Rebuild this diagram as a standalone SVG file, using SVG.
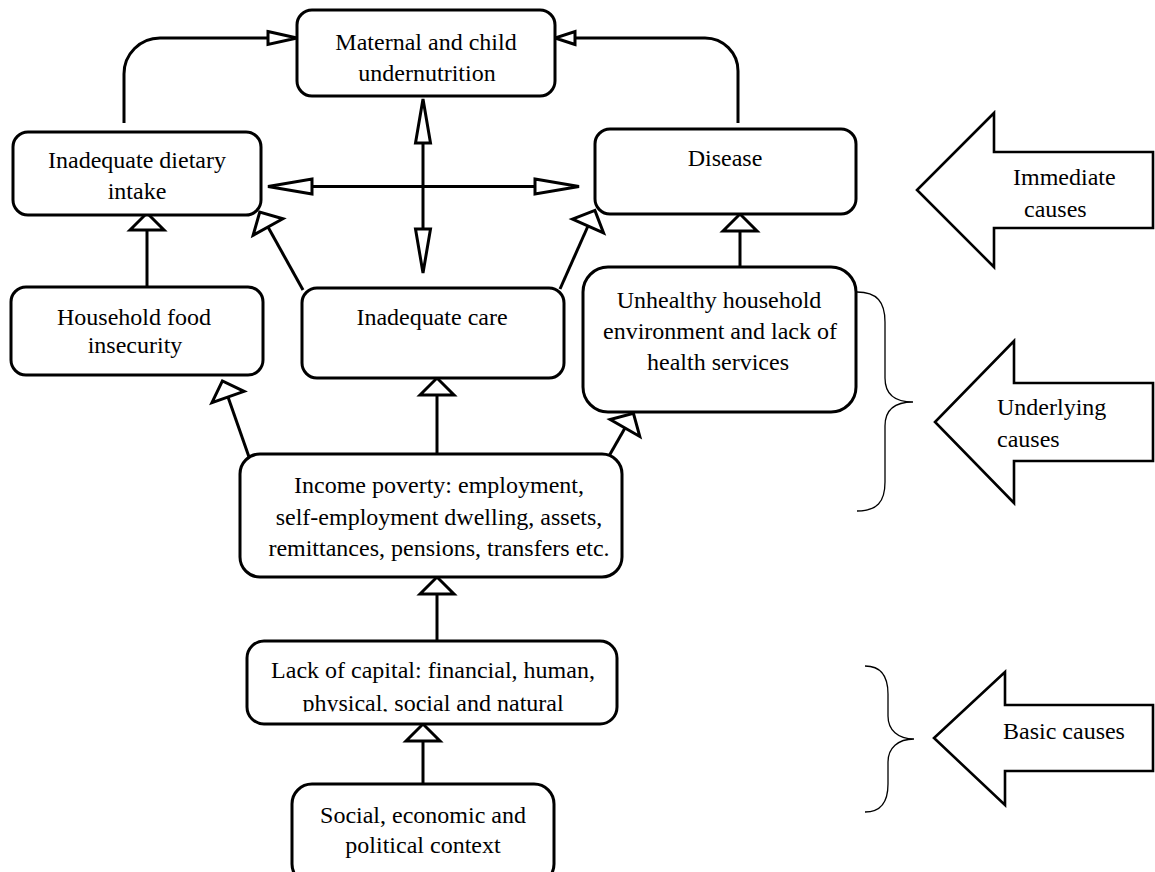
<svg xmlns="http://www.w3.org/2000/svg" width="1155" height="872" viewBox="0 0 1155 872">
<style>
.box{fill:#fff;stroke:#000;stroke-width:3}
.t{font-family:"Liberation Serif","Times New Roman",serif;font-size:24px;fill:#000;text-anchor:middle}
.ts{font-family:"Liberation Serif","Times New Roman",serif;font-size:24px;fill:#000}
.ln{fill:none;stroke:#000;stroke-width:3}
.big{fill:#fff;stroke:#000;stroke-width:2.6;stroke-linejoin:miter}
.brace{fill:none;stroke:#000;stroke-width:1.3}
</style>
<defs>
<marker id="tri" markerUnits="userSpaceOnUse" markerWidth="40" markerHeight="40" refX="0" refY="0" viewBox="-3 -20 24 40" orient="auto-start-reverse" overflow="visible">
<path d="M0,-17 L17,0 L0,17 Z" fill="#fff" stroke="#000" stroke-width="3" stroke-linejoin="miter"/>
</marker>
<marker id="dart" markerUnits="userSpaceOnUse" markerWidth="50" markerHeight="20" refX="0" refY="0" viewBox="-3 -10 50 20" orient="auto-start-reverse" overflow="visible">
<path d="M0,-7.5 L44,0 L0,7.5 Z" fill="#fff" stroke="#000" stroke-width="3" stroke-linejoin="miter"/>
</marker>
<marker id="dartM" markerUnits="userSpaceOnUse" markerWidth="34" markerHeight="20" refX="0" refY="0" viewBox="-3 -10 34 20" orient="auto" overflow="visible">
<path d="M0,-6.5 L29,0 L0,6.5 Z" fill="#fff" stroke="#000" stroke-width="3" stroke-linejoin="miter"/>
</marker>
<marker id="dartS" markerUnits="userSpaceOnUse" markerWidth="26" markerHeight="20" refX="0" refY="0" viewBox="-3 -10 26 20" orient="auto" overflow="visible">
<path d="M0,-6.5 L20,0 L0,6.5 Z" fill="#fff" stroke="#000" stroke-width="3" stroke-linejoin="miter"/>
</marker>
<clipPath id="clipLack"><rect x="240" y="630" width="400" height="81.5"/></clipPath>
</defs>

<g id="connectors">
<path class="ln" d="M124,123 V74 A36,36 0 0 1 160,38 H268" marker-end="url(#dartM)"/>
<path class="ln" d="M738,123 V71 A33,33 0 0 0 705,38 H575" marker-end="url(#dartS)"/>
<path class="ln" d="M423,143 V229" marker-start="url(#dart)" marker-end="url(#dart)"/>
<path class="ln" d="M312,186.5 H535" marker-start="url(#dart)" marker-end="url(#dart)"/>
<path class="ln" d="M147,287 V230" marker-end="url(#tri)"/>
<path class="ln" d="M303,290 L268,227" marker-end="url(#tri)"/>
<path class="ln" d="M560,289 L588,226" marker-end="url(#tri)"/>
<path class="ln" d="M740,267 V231" marker-end="url(#tri)"/>
<path class="ln" d="M249,457 L228,397" marker-end="url(#tri)"/>
<path class="ln" d="M437,454 V395" marker-end="url(#tri)"/>
<path class="ln" d="M609,456 L625,428" marker-end="url(#tri)"/>
<path class="ln" d="M437,641 V594" marker-end="url(#tri)"/>
<path class="ln" d="M423,784 V741" marker-end="url(#tri)"/>
</g>

<g id="n-maternal">
<rect class="box" x="297" y="10" width="258" height="86" rx="15"/>
<text class="t" x="426" y="50">Maternal and child</text>
<text class="t" x="427" y="81">undernutrition</text>
</g>
<g id="n-dietary">
<rect class="box" x="13" y="132" width="248" height="83" rx="15"/>
<text class="t" x="137" y="168">Inadequate dietary</text>
<text class="t" x="137" y="199">intake</text>
</g>
<g id="n-disease">
<rect class="box" x="595" y="129" width="261" height="85" rx="15"/>
<text class="t" x="725" y="166">Disease</text>
</g>
<g id="n-household">
<rect class="box" x="11" y="287" width="252" height="88" rx="15"/>
<text class="t" x="134" y="325">Household food</text>
<text class="t" x="135" y="353">insecurity</text>
</g>
<g id="n-care">
<rect class="box" x="302" y="288" width="262" height="90" rx="15"/>
<text class="t" x="432" y="325">Inadequate care</text>
</g>
<g id="n-unhealthy">
<rect class="box" x="583" y="267" width="273" height="145" rx="25"/>
<text class="t" x="719" y="308">Unhealthy household</text>
<text class="t" x="720" y="339">environment and lack of</text>
<text class="t" x="718" y="370">health services</text>
</g>
<g id="n-income">
<rect class="box" x="240" y="454" width="382" height="123" rx="20"/>
<text class="t" x="439" y="493">Income poverty: employment,</text>
<text class="t" x="439" y="525">self-employment dwelling, assets,</text>
<text class="t" x="439" y="556">remittances, pensions, transfers etc.</text>
</g>
<g id="n-capital">
<rect class="box" x="247" y="641" width="370" height="83" rx="17"/>
<text class="t" x="433" y="678">Lack of capital: financial, human,</text>
<text class="t" x="433" y="711" clip-path="url(#clipLack)">physical, social and natural</text>
</g>
<g id="n-context">
<rect class="box" x="292" y="784" width="262" height="100" rx="20"/>
<text class="t" x="423" y="823">Social, economic and</text>
<text class="t" x="423" y="853">political context</text>
</g>

<g id="immediate">
<polygon class="big" points="1153,152 994,152 994,113 917,190 994,267 994,228 1153,228"/>
<text class="ts" x="1013" y="185">Immediate</text>
<text class="ts" x="1024" y="217">causes</text>
</g>
<g id="underlying">
<path class="brace" d="M857,292 C877,292 885,302 885,322 L885,378 C885,394 895,402 913,402 C895,402 885,410 885,426 L885,482 C885,502 877,511 857,511"/>
<polygon class="big" points="1153,383 1014,383 1014,341 935,422 1014,503 1014,461 1153,461"/>
<text class="ts" x="997" y="415">Underlying</text>
<text class="ts" x="997" y="447">causes</text>
</g>
<g id="basic">
<path class="brace" d="M865,666 C881,666 888,676 888,694 L888,716 C888,730 898,739 914,739 C898,739 888,748 888,762 L888,784 C888,802 881,812 865,812"/>
<polygon class="big" points="1153,705 1005,705 1005,672 934,738 1005,805 1005,771 1153,771"/>
<text class="ts" x="1003" y="739">Basic causes</text>
</g>
</svg>
